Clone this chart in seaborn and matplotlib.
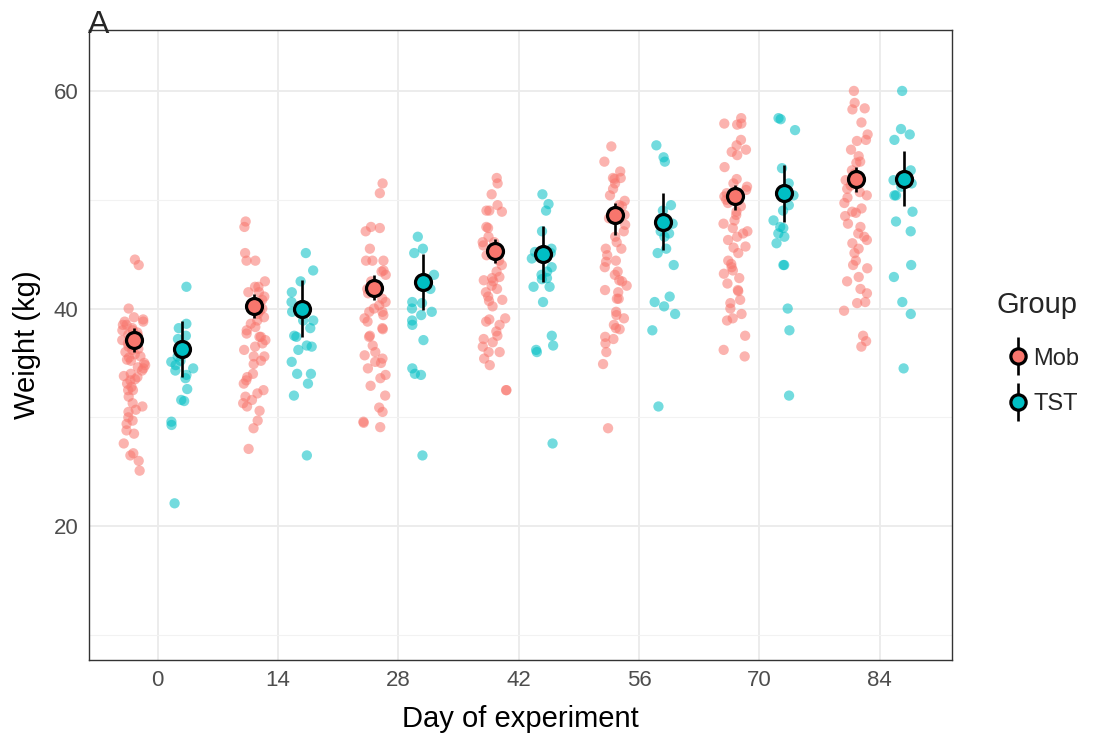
import numpy as np
import pandas as pd
import matplotlib
matplotlib.use("Agg")
import matplotlib.pyplot as plt
from matplotlib.lines import Line2D
from matplotlib.legend_handler import HandlerTuple
import seaborn as sns

# ---------------- data ----------------
days = [0, 14, 28, 42, 56, 70, 84]
groups = ["Mob", "TST"]

mob_d0 = [44.5, 44.0, 40.0, 39.2, 39.0, 38.8, 38.8, 38.5, 38.5, 38.2, 38.0, 38.0, 37.8, 37.6,
          37.5, 37.3, 37.1, 37.0, 36.8, 36.6, 36.5, 36.3, 36.2, 36.0, 35.8, 35.6, 35.5, 35.3,
          35.2, 35.0, 34.8, 34.6, 34.5, 34.3, 34.0, 33.8, 33.7, 33.5, 33.4, 33.1, 32.8, 32.5,
          32.5, 31.9, 31.3, 31.0, 30.7, 30.5, 30.0, 29.7, 29.4, 28.8, 28.5, 27.6, 26.7, 26.5,
          26.0, 25.1]
tst_d0 = [42.0, 38.6, 38.2, 37.5, 37.2, 36.2, 35.6, 35.2, 35.1, 34.8, 34.5, 34.3, 33.9, 33.6,
          32.6, 31.6, 31.5, 29.6, 29.3, 22.1]
mob_d14 = [48.0, 47.5, 45.1, 44.4, 44.4, 42.5, 42.0, 42.0, 41.5, 41.5, 41.1, 40.8, 40.5, 40.2,
           40.0, 39.8, 39.5, 39.2, 38.9, 38.6, 38.3, 38.0, 37.7, 37.4, 37.4, 37.1, 36.8, 36.5,
           36.2, 35.6, 35.6, 35.2, 34.9, 34.0, 33.7, 33.4, 33.1, 32.5, 32.2, 31.9, 31.6, 31.3,
           31.0, 30.6, 29.7, 29.0, 27.1]
tst_d14 = [45.1, 43.5, 42.5, 41.5, 40.6, 39.7, 38.9, 38.9, 38.2, 37.5, 37.4, 36.6, 36.5, 36.2,
           35.1, 34.0, 34.0, 33.1, 32.0, 26.5]
mob_d28 = [51.5, 50.6, 47.5, 47.4, 47.1, 45.5, 44.4, 44.4, 44.4, 43.5, 43.4, 43.1, 42.5, 41.8,
           41.4, 40.9, 40.6, 40.3, 40.0, 39.7, 39.7, 39.4, 39.1, 38.8, 38.2, 38.1, 37.5, 37.4,
           36.6, 36.0, 35.7, 35.4, 35.1, 35.0, 34.5, 33.9, 33.6, 32.9, 32.0, 30.9, 30.5, 29.6,
           29.5, 29.1]
tst_d28 = [46.6, 45.5, 45.1, 43.1, 42.0, 41.8, 40.6, 40.5, 40.0, 39.7, 39.4, 38.9, 38.5, 37.1,
           34.5, 34.0, 33.9, 26.5]
mob_d42 = [52.0, 51.5, 50.5, 49.5, 49.0, 49.0, 48.9, 47.5, 47.4, 46.6, 46.1, 46.1, 45.8, 45.4,
           44.9, 44.4, 44.0, 43.4, 42.9, 42.8, 42.6, 42.5, 42.1, 41.8, 41.5, 41.1, 40.8, 40.7,
           40.2, 39.1, 39.0, 38.8, 38.5, 37.9, 37.5, 37.2, 36.9, 36.5, 36.0, 36.0, 35.4, 34.8,
           32.5, 32.5]
tst_d42 = [50.5, 49.6, 49.0, 47.1, 45.5, 45.2, 45.1, 44.6, 43.8, 43.4, 43.1, 42.8, 42.7, 42.0,
           42.0, 40.6, 37.5, 36.6, 36.2, 36.0, 27.6]
mob_d56 = [54.9, 53.5, 52.6, 52.0, 52.0, 51.9, 51.5, 51.0, 50.4, 49.9, 49.5, 49.4, 48.6, 48.3,
           47.7, 47.1, 46.6, 46.1, 45.5, 45.5, 44.9, 44.4, 44.3, 43.8, 43.4, 43.1, 42.6, 42.5,
           42.1, 41.7, 41.5, 40.9, 40.9, 39.7, 39.4, 39.1, 38.5, 38.2, 38.1, 37.4, 37.2, 36.8,
           36.0, 34.9, 29.0]
tst_d56 = [55.0, 53.9, 53.5, 49.5, 49.0, 47.8, 47.1, 46.9, 46.6, 45.5, 45.1, 44.0, 41.1, 40.6,
           40.2, 39.5, 38.0, 31.0]
mob_d70 = [57.5, 57.0, 57.0, 56.9, 55.5, 55.0, 54.6, 54.4, 54.1, 53.0, 51.9, 51.5, 51.2, 50.9,
           50.6, 50.3, 50.0, 49.7, 49.4, 48.9, 48.6, 48.1, 47.8, 47.4, 47.1, 46.9, 46.6, 46.3,
           45.7, 45.6, 45.1, 44.4, 44.1, 43.8, 43.5, 43.2, 42.8, 42.3, 41.7, 41.6, 40.8, 40.5,
           40.0, 39.5, 39.1, 38.9, 37.5, 36.2, 35.6]
tst_d70 = [57.5, 57.4, 56.4, 52.9, 51.5, 50.6, 50.4, 49.5, 49.0, 48.1, 47.5, 47.4, 46.9, 46.6,
           46.0, 44.0, 44.0, 40.0, 38.0, 32.0]
mob_d84 = [60.0, 58.9, 58.4, 58.3, 57.1, 56.0, 55.5, 55.4, 54.6, 54.0, 53.5, 53.4, 52.7, 52.4,
           51.8, 51.3, 51.0, 50.7, 50.4, 50.2, 49.7, 49.2, 48.9, 48.8, 48.5, 47.8, 47.5, 46.9,
           46.6, 46.3, 46.0, 45.5, 45.1, 44.4, 44.0, 43.7, 42.9, 42.5, 41.8, 41.4, 40.6, 40.5,
           39.8, 37.5, 37.0, 36.5]
tst_d84 = [60.0, 56.5, 56.0, 55.5, 52.7, 52.1, 51.8, 51.5, 51.2, 50.4, 50.4, 48.9, 48.0, 47.1,
           44.0, 42.9, 40.6, 39.5, 34.5]

# group means and error-bar limits
mob_mean = [37.1, 40.2, 41.9, 45.3, 48.6, 50.3, 51.9]
mob_lo = [36.0, 39.1, 40.8, 44.2, 46.8, 49.1, 50.7]
mob_hi = [38.25, 41.3, 43.1, 46.4, 49.7, 51.4, 53.0]
tst_mean = [36.3, 40.0, 42.45, 45.0, 48.0, 50.6, 51.9]
tst_lo = [33.75, 37.4, 39.9, 42.45, 45.4, 48.0, 49.4]
tst_hi = [38.9, 42.6, 45.0, 47.6, 50.6, 53.2, 54.5]

mob_points = [mob_d0, mob_d14, mob_d28, mob_d42, mob_d56, mob_d70, mob_d84]
tst_points = [tst_d0, tst_d14, tst_d28, tst_d42, tst_d56, tst_d70, tst_d84]

rows = []
for d, mv, tv in zip(days, mob_points, tst_points):
    rows += [{"day": d, "weight": w, "Group": "Mob"} for w in mv]
    rows += [{"day": d, "weight": w, "Group": "TST"} for w in tv]
df = pd.DataFrame(rows)

# ---------------- styling ----------------
sns.set_style("white")
plt.rcParams["font.family"] = ["Liberation Sans", "DejaVu Sans"]

palette = {"Mob": "#F8766D", "TST": "#00BFC4"}

fig = plt.figure(figsize=(11.04, 7.37), dpi=100)
ax = fig.add_axes([89 / 1104, 1 - 660 / 737, (952 - 89) / 1104, (660 - 30) / 737])

np.random.seed(3)
sns.stripplot(data=df, x="day", y="weight", hue="Group", hue_order=groups,
              palette=palette, dodge=True, native_scale=True, jitter=0.2,
              size=7.4, alpha=0.55, linewidth=0, legend=False, ax=ax, zorder=2)

offset = 0.8 * 14 / 4
days_arr = np.array(days, dtype=float)
for g, sign, mean, lo, hi in [("Mob", -1, mob_mean, mob_lo, mob_hi),
                              ("TST", 1, tst_mean, tst_lo, tst_hi)]:
    mean = np.array(mean)
    yerr = np.vstack([mean - np.array(lo), np.array(hi) - mean])
    ax.errorbar(days_arr + sign * offset, mean, yerr=yerr, fmt="o",
                color="black", ecolor="black", elinewidth=1.9, capsize=0,
                markersize=11.5, markerfacecolor=palette[g], markeredgecolor="black",
                markeredgewidth=2.3, zorder=5)

ax.set_xlim(-8.0, 92.4)
ax.set_ylim(7.7, 65.6)
ax.set_xticks(days)
ax.set_xticklabels([str(d) for d in days])
ax.set_yticks([20, 40, 60])
ax.set_yticks([10, 30, 50], minor=True)

ax.grid(True, which="major", color="#EBEBEB", linewidth=1.3)
ax.grid(True, which="minor", axis="y", color="#F2F2F2", linewidth=0.8)
ax.set_axisbelow(True)
for s in ax.spines.values():
    s.set_color("#333333")
    s.set_linewidth(1.0)

ax.tick_params(axis="both", which="major", length=3.5, width=1.0, color="#333333",
               labelsize=16, labelcolor="#4D4D4D", pad=4)
ax.tick_params(axis="both", which="minor", length=0)
ax.set_xlabel("Day of experiment", fontsize=21, color="black", labelpad=10)
ax.set_ylabel("Weight (kg)", fontsize=21, color="black", labelpad=9)

fig.text(88 / 1104, 1 - 10 / 737, "A", fontsize=23, va="top", ha="left")

# legend (point-range keys)
fig.text(997 / 1104, 1 - 305 / 737, "Group", fontsize=21, va="center", ha="left")
handles = []
for g in groups:
    vline = Line2D([], [], color="black", marker="|", markersize=27, markeredgewidth=1.9,
                   linestyle="none")
    dot = Line2D([], [], marker="o", markersize=11, markerfacecolor=palette[g],
                 markeredgecolor="black", markeredgewidth=2.3, linestyle="none")
    handles.append((vline, dot))
leg = fig.legend(handles, groups, handler_map={tuple: HandlerTuple(ndivide=1)},
                 loc="center left", bbox_to_anchor=(1006 / 1104, 1 - 381.5 / 737),
                 frameon=False, fontsize=17, labelspacing=1.0, handlelength=1.0,
                 handletextpad=0.15, borderpad=0, borderaxespad=0)

fig.savefig("out.png", dpi=100)
